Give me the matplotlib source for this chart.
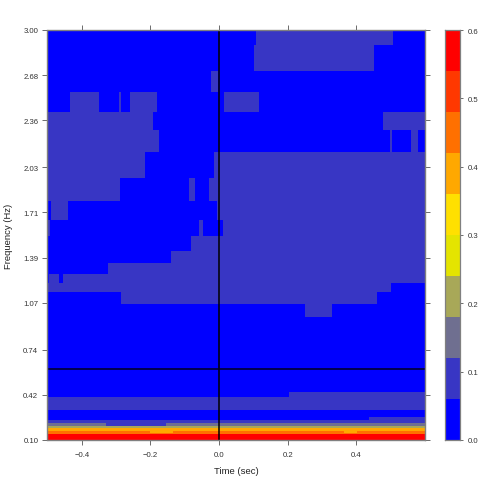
import numpy as np
import matplotlib
matplotlib.use("Agg")
import matplotlib.pyplot as plt
from matplotlib.colors import ListedColormap, BoundaryNorm

plt.rcParams['font.family'] = ['Liberation Sans', 'DejaVu Sans']

# Frequency band edges (Hz), bottom to top
freq_edges = [0.100, 0.145, 0.153, 0.167, 0.186, 0.200, 0.220, 0.238, 0.261, 0.312, 0.406, 0.437,
              0.972, 1.062, 1.145, 1.207, 1.274, 1.352, 1.439, 1.543, 1.658, 1.790, 1.951,
              2.135, 2.295, 2.418, 2.559, 2.712, 2.894, 3.000]
# Background coherence of each band
band_base = [0.57, 0.45, 0.45, 0.39, 0.21, 0.09, 0.09, 0.03, 0.03, 0.09, 0.03, 0.03,
             0.03, 0.03, 0.03, 0.03, 0.03, 0.03, 0.03, 0.03, 0.03, 0.03, 0.03,
             0.03, 0.03, 0.03, 0.03, 0.03, 0.03]
# Time spans (sec) in each band whose value differs from the background
low = 0.09
band_spans = [
    [],
    [],
    [(-0.202, -0.135, 0.39), (0.363, 0.401, 0.39)],
    [],
    [],
    [(-0.500, -0.330, 0.15), (-0.155, 0.600, 0.15)],
    [],
    [(0.437, 0.600, low)],
    [],
    [],
    [(0.203, 0.600, low)],
    [],
    [(0.251, 0.330, low)],
    [(-0.285, 0.459, low)],
    [(-0.500, 0.501, low)],
    [(-0.496, -0.467, low), (-0.455, 0.600, low)],
    [(-0.325, 0.600, low)],
    [(-0.139, 0.600, low)],
    [(-0.083, 0.600, low)],
    [(-0.500, -0.494, low), (-0.059, -0.048, low), (0.011, 0.600, low)],
    [(-0.489, -0.439, low), (-0.006, 0.600, low)],
    [(-0.500, -0.289, low), (-0.089, -0.069, low), (-0.028, 0.600, low)],
    [(-0.500, -0.216, low), (-0.015, 0.600, low)],
    [(-0.500, -0.176, low), (0.498, 0.503, low), (0.558, 0.580, low)],
    [(-0.500, -0.192, low), (0.479, 0.600, low)],
    [(-0.434, -0.350, low), (-0.292, -0.287, low), (-0.260, -0.180, low), (0.015, 0.117, low)],
    [(-0.024, -0.003, low)],
    [(0.102, 0.450, low)],
    [(0.107, 0.508, low)],
]

time_limits = [-0.5, 0.6]
freq_limits = [0.10, 3.00]
x_ticks = [-0.4, -0.2, 0.0, 0.2, 0.4]
y_ticks = [0.10, 0.42, 0.74, 1.07, 1.39, 1.71, 2.03, 2.36, 2.68, 3.00]
level_edges = [0.0, 0.06, 0.12, 0.18, 0.24, 0.30, 0.36, 0.42, 0.48, 0.54, 0.60]
level_colors = ['#0000ff', '#3836c4', '#6f6f90', '#a8a858', '#e4e400',
                '#ffe000', '#ffa800', '#ff7000', '#ff3800', '#ff0000']
cbar_ticks = [0.0, 0.1, 0.2, 0.3, 0.4, 0.5, 0.6]
ref_time = 0.0
ref_freq = 0.60

t_set = set(time_limits)
for spans in band_spans:
    for a, b, _ in spans:
        t_set.update([a, b])
t_edges = np.array(sorted(t_set))
t_mid = 0.5 * (t_edges[:-1] + t_edges[1:])
Z = np.zeros((len(freq_edges) - 1, len(t_mid)))
for i, spans in enumerate(band_spans):
    Z[i, :] = band_base[i]
    for a, b, v in spans:
        Z[i, (t_mid > a) & (t_mid < b)] = v

cmap = ListedColormap(level_colors)
norm = BoundaryNorm(level_edges, cmap.N)

W = 485.0
fig = plt.figure(figsize=(4.85, 4.85), dpi=100)
ax = fig.add_axes([47.5 / W, 1 - 441 / W, 377.5 / W, 410 / W])
ax.pcolormesh(t_edges, freq_edges, Z, cmap=cmap, norm=norm, antialiased=False, linewidth=0)
ax.axvline(ref_time, color='black', lw=1.1)
ax.axhline(ref_freq, color='#000020', lw=1.1)
ax.set_xlim(time_limits)
ax.set_ylim(freq_limits)
ax.set_xticks(x_ticks)
ax.set_xticklabels([f"{v:.1f}".replace('-', '\u2212') for v in x_ticks])
ax.set_yticks(y_ticks)
ax.set_yticklabels([f"{v:.2f}" for v in y_ticks])
ax.tick_params(axis='both', top=True, right=True, length=3.6, width=0.6, color='#555555',
               labelsize=5.6, labelcolor='#333333')
ax.tick_params(axis='x', pad=4.5)
ax.tick_params(axis='y', pad=3)
for s in ax.spines.values():
    s.set_color('#808080')
    s.set_linewidth(1.0)
ax.set_xlabel('Time (sec)', fontsize=6.8, color='#222222', labelpad=5.8)
ax.set_ylabel('Frequency (Hz)', fontsize=6.8, color='#222222', labelpad=7)

cax = fig.add_axes([445.5 / W, 1 - 441 / W, 14.5 / W, 410 / W])
cax.pcolormesh([0, 1], level_edges, np.array(level_edges[:-1]).reshape(-1, 1) + 0.03,
               cmap=cmap, norm=norm, antialiased=False, linewidth=0)
cax.set_xticks([])
cax.yaxis.tick_right()
cax.set_yticks(cbar_ticks)
cax.set_yticklabels([f"{v:.1f}" for v in cbar_ticks])
cax.set_ylim(0, 0.6)
cax.tick_params(axis='y', length=2, width=0.6, color='#555555', labelsize=5.6,
                labelcolor='#333333', pad=3.5)
for s in cax.spines.values():
    s.set_color('#808080')
    s.set_linewidth(0.9)

fig.savefig('out.png', dpi=100)
